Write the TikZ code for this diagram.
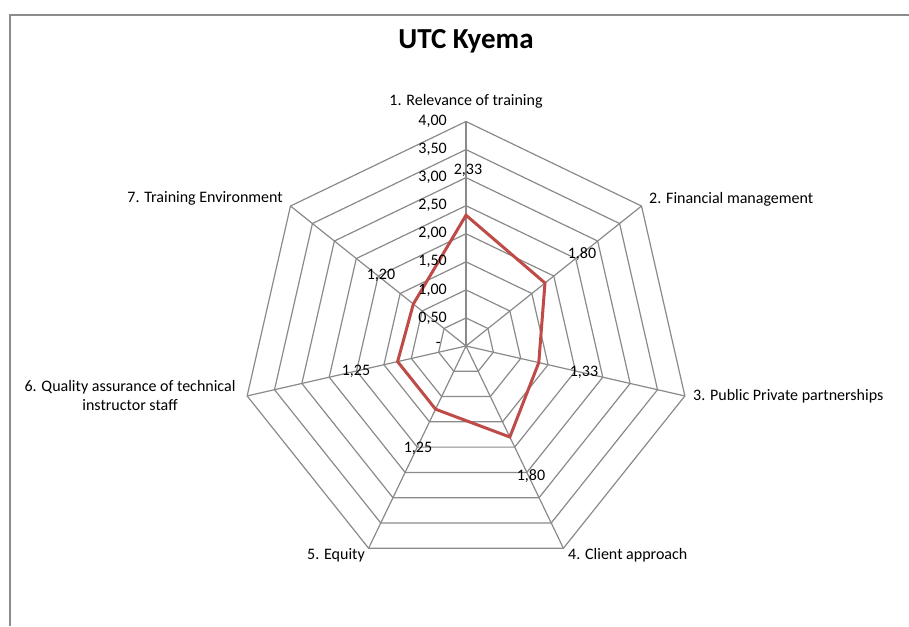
\documentclass[tikz,border=0pt]{standalone}
\usepackage{fontspec}
\setmainfont{Carlito}
\definecolor{gridgray}{HTML}{8A8A8A}
\definecolor{framegray}{HTML}{8C8C8C}
\definecolor{datared}{HTML}{BE4B48}
\begin{document}
\begin{tikzpicture}[x=1pt,y=1pt,
  gridline/.style={draw=gridgray, line width=1.2pt},
  frameline/.style={draw=framegray, line width=1.2pt},
  dataline/.style={draw=datared, line width=3pt, line join=miter},
  lbl/.style={font=\fontsize{16}{19}\selectfont, inner sep=0pt, text=black},
  ticklbl/.style={lbl, anchor=east},
  titlelbl/.style={font=\fontsize{29}{34}\selectfont\bfseries, inner sep=0pt}]
\useasboundingbox (0,0) rectangle (909,626);
% frame
\coordinate (fa) at (10,0);
\coordinate (fb) at (10,611);
\coordinate (fc) at (909,611);
\draw[frameline] (fa) -- (fb) -- (fc);
% title
\node[titlelbl] (title) at (466,585) {UTC Kyema};
\begin{scope}[shift={(466,280)}]
  \coordinate (O) at (0,0);
  % rings
  \foreach \k in {1,...,8}{
    \draw[gridline] (90:{\k*28.0625}) \foreach \i in {1,...,6}{ -- ({90-\i*360/7}:{\k*28.0625})} -- cycle;
  }
  % spokes
  \foreach \i in {0,...,6}{
    \coordinate (s\i) at ({90-\i*360/7}:224.5);
    \draw[gridline] (O) -- (s\i);
  }
  % data
  \coordinate (d1) at (90:{2.33*56.125});
  \coordinate (d2) at ({90-1*360/7}:{1.80*56.125});
  \coordinate (d3) at ({90-2*360/7}:{1.33*56.125});
  \coordinate (d4) at ({90-3*360/7}:{1.80*56.125});
  \coordinate (d5) at ({90-4*360/7}:{1.25*56.125});
  \coordinate (d6) at ({90-5*360/7}:{1.25*56.125});
  \coordinate (d7) at ({90-6*360/7}:{1.20*56.125});
  \draw[dataline] (d1) -- (d2) -- (d3) -- (d4) -- (d5) -- (d6) -- (d7) -- cycle;
  % tick labels
  \node[ticklbl] (t8) at (-19,224.5) {4,00};
  \node[ticklbl] (t7) at (-19,196.4) {3,50};
  \node[ticklbl] (t6) at (-19,168.4) {3,00};
  \node[ticklbl] (t5) at (-19,140.3) {2,50};
  \node[ticklbl] (t4) at (-19,112.25) {2,00};
  \node[ticklbl] (t3) at (-19,84.2) {1,50};
  \node[ticklbl] (t2) at (-19,56.1) {1,00};
  \node[ticklbl] (t1) at (-19,28.1) {0,50};
  \node[ticklbl] (t0) at (-25,1) {-};
\end{scope}
% data labels
\node[lbl] (v1) at (468,456) {2,33};
\node[lbl] (v2) at (582,372) {1,80};
\node[lbl] (v3) at (584,254) {1,33};
\node[lbl] (v4) at (531,150) {1,80};
\node[lbl] (v5) at (418,178) {1,25};
\node[lbl] (v6) at (356,255) {1,25};
\node[lbl] (v7) at (381,351) {1,20};
% category labels
\node[lbl] (c1) at (466,525) {1. Relevance of training};
\node[lbl, anchor=west] (c2) at (649,427) {2. Financial management};
\node[lbl, anchor=west] (c3) at (693,230) {3. Public Private partnerships};
\node[lbl, anchor=west] (c4) at (568,71) {4. Client approach};
\node[lbl, anchor=east] (c5) at (365,71) {5. Equity};
\node[lbl, align=center] (c6) at (130,230) {6. Quality assurance of technical\\instructor staff};
\node[lbl, anchor=east] (c7) at (283,428) {7. Training Environment};
\end{tikzpicture}
\end{document}
